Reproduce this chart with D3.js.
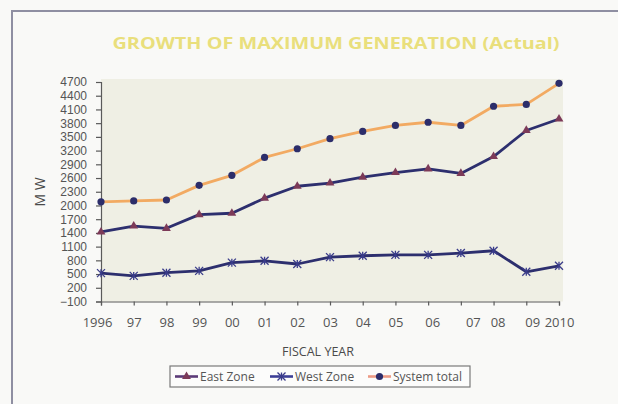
<!DOCTYPE html>
<html>
<head>
<meta charset="utf-8">
<script src="https://cdn.jsdelivr.net/npm/d3@7"></script>
<style>
  html, body { margin: 0; padding: 0; background: #f9f9f7; }
  svg { display: block; }
  text { font-family: "Open Sans", "Noto Sans", sans-serif; fill: #4a4a4a; }
</style>
</head>
<body>
<svg id="chart" width="618" height="404"></svg>
<script>
// Fiscal years and peak generation (MW)
const years = ["1996", "97", "98", "99", "00", "01", "02", "03", "04", "05", "06", "07", "08", "09", "2010"];
const eastZone = [1420, 1550, 1500, 1800, 1830, 2160, 2420, 2490, 2620, 2720, 2800, 2700, 3070, 3640, 3890];
const westZone = [520, 460, 530, 570, 750, 790, 720, 870, 900, 920, 920, 960, 1010, 550, 680];
const systemTotal = [2080, 2100, 2120, 2440, 2660, 3050, 3240, 3460, 3620, 3750, 3820, 3750, 4170, 4210, 4670];
const yTicks = d3.range(-100, 4701, 300);
const seriesNames = ["East Zone", "West Zone", "System total"];

const svg = d3.select("#chart");

// outer frame (top and left edges)
svg.append("path")
  .attr("d", "M12,404 V11 H618")
  .attr("fill", "none")
  .attr("stroke", "#8f8fa2")
  .attr("stroke-width", 2);

// title
svg.append("text")
  .attr("x", 336).attr("y", 49)
  .attr("text-anchor", "middle")
  .attr("textLength", 447)
  .attr("lengthAdjust", "spacingAndGlyphs")
  .style("font-size", "16px")
  .style("font-weight", "bold")
  .style("fill", "#e9df7c")
  .text("GROWTH OF MAXIMUM GENERATION (Actual)");

const plotLeft = 101, plotRight = 559, plotTop = 82, plotBottom = 301.5;

const x = d3.scaleLinear().domain([0, years.length - 1]).range([plotLeft, plotRight]);
const y = d3.scaleLinear().domain([-100, 4700]).range([plotBottom, plotTop]);

// plot area
svg.append("rect")
  .attr("x", plotLeft).attr("y", 79)
  .attr("width", 462).attr("height", plotBottom - 79)
  .attr("fill", "#efefe4");

// y axis
const yAxis = svg.append("g")
  .attr("transform", `translate(${plotLeft},0)`)
  .call(d3.axisLeft(y).tickValues(yTicks).tickSize(5).tickPadding(9).tickFormat(d3.format("d")));
yAxis.selectAll("text").style("font-size", "12px").style("font-family", "\"Liberation Sans\", sans-serif").style("fill", "#555");

// x axis
const labelShift = { "1996": -4, "06": 4, "07": 12, "08": 4, "09": 6 };
const xAxis = svg.append("g")
  .attr("transform", `translate(0,${plotBottom})`)
  .call(d3.axisBottom(x).tickValues(d3.range(years.length)).tickSize(4).tickPadding(12)
    .tickFormat(i => years[i]));
xAxis.selectAll("text")
  .style("font-size", "13px")
  .style("fill", "#555")
  .attr("dx", (d) => labelShift[years[d]] || 0);

svg.selectAll(".domain, .tick line").attr("stroke", "#5a5a5a").attr("stroke-width", 1.2);

// axis titles
svg.append("text")
  .attr("transform", "translate(45,192) rotate(-90)")
  .attr("text-anchor", "middle")
  .style("font-size", "14px")
  .text("M W");

svg.append("text")
  .attr("x", 318).attr("y", 356)
  .attr("text-anchor", "middle")
  .style("font-size", "12.5px")
  .text("FISCAL  YEAR");

const line = d3.line().x((d, i) => x(i)).y(d => y(d));

const navy = "#2d2f6e";
const series = [
  { name: seriesNames[0], values: eastZone, stroke: navy, marker: "tri", mcolor: "#7c3a58", legendStroke: "#5b3a78" },
  { name: seriesNames[1], values: westZone, stroke: navy, marker: "star", mcolor: "#3a3c8a", legendStroke: "#3c3e96" },
  { name: seriesNames[2], values: systemTotal, stroke: "#f2aa62", marker: "dot", mcolor: "#2c2d6a", legendStroke: "#ec9a86" }
];

function drawMarker(g, type, color, cx, cy) {
  if (type === "dot") {
    g.append("circle").attr("cx", cx).attr("cy", cy).attr("r", 3.6).attr("fill", color);
  } else if (type === "tri") {
    g.append("path")
      .attr("d", d3.symbol().type(d3.symbolTriangle).size(34)())
      .attr("transform", `translate(${cx},${cy})`)
      .attr("fill", color);
  } else {
    const s = 4;
    g.append("path")
      .attr("d", `M${cx - s},${cy - s}L${cx + s},${cy + s}M${cx - s},${cy + s}L${cx + s},${cy - s}M${cx},${cy - s}V${cy + s}`)
      .attr("stroke", color).attr("stroke-width", 1.3).attr("fill", "none");
  }
}

series.forEach(s => {
  svg.append("path")
    .datum(s.values)
    .attr("d", line)
    .attr("fill", "none")
    .attr("stroke", s.stroke)
    .attr("stroke-width", 2.8)
    .attr("stroke-linejoin", "round");
  const mg = svg.append("g");
  s.values.forEach((v, i) => drawMarker(mg, s.marker, s.mcolor, x(i), y(v)));
});

// legend
const lg = svg.append("g");
lg.append("rect")
  .attr("x", 170).attr("y", 366)
  .attr("width", 300).attr("height", 21)
  .attr("fill", "#fcfcfb")
  .attr("stroke", "#7a7a7a").attr("stroke-width", 1.2);
const legendX = [175, 270, 368];
series.forEach((s, i) => {
  const lx = legendX[i];
  lg.append("line")
    .attr("x1", lx).attr("x2", lx + 23)
    .attr("y1", 376.5).attr("y2", 376.5)
    .attr("stroke", s.legendStroke).attr("stroke-width", 2.6);
  drawMarker(lg, s.marker, s.mcolor, lx + 11.5, 376.5);
  lg.append("text")
    .attr("x", lx + 25).attr("y", 381)
    .style("font-size", "12px")
    .style("fill", "#555")
    .text(s.name);
});
</script>
</body>
</html>
